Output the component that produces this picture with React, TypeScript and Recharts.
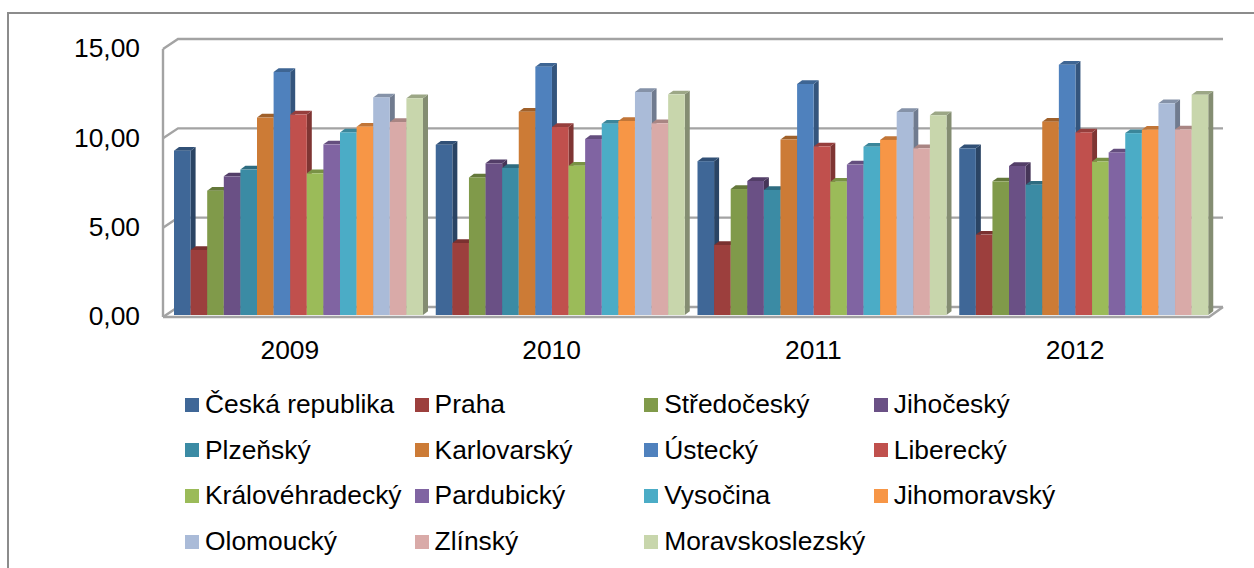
import {Bar, BarChart, CartesianGrid, Legend, XAxis, YAxis} from "recharts";

const YEARS = ["2009", "2010", "2011", "2012"];
const Y_TICKS = [0, 5, 10, 15];

const ceskaRepublika = [9.2, 9.53, 8.61, 9.33];
const praha = [3.64, 4.03, 3.92, 4.5];
const stredocesky = [6.96, 7.7, 7.05, 7.48];
const jihocesky = [7.76, 8.49, 7.5, 8.34];
const plzensky = [8.14, 8.23, 7.0, 7.29];
const karlovarsky = [11.05, 11.38, 9.82, 10.82];
const ustecky = [13.6, 13.9, 12.93, 14.01];
const liberecky = [11.22, 10.52, 9.44, 10.22];
const kralovehradecky = [7.93, 8.36, 7.46, 8.59];
const pardubicky = [9.55, 9.85, 8.42, 9.1];
const vysocina = [10.22, 10.71, 9.42, 10.18];
const jihomoravsky = [10.54, 10.86, 9.8, 10.37];
const olomoucky = [12.18, 12.48, 11.36, 11.85];
const zlinsky = [10.8, 10.73, 9.33, 10.39];
const moravskoslezsky = [12.13, 12.35, 11.18, 12.33];

const SERIES = [
    {name: "Česká republika", values: ceskaRepublika, color: "#3f6797"},
    {name: "Praha", values: praha, color: "#9c3f3d"},
    {name: "Středočeský", values: stredocesky, color: "#809a4a"},
    {name: "Jihočeský", values: jihocesky, color: "#6a5085"},
    {name: "Plzeňský", values: plzensky, color: "#3b8ba4"},
    {name: "Karlovarský", values: karlovarsky, color: "#cc7b36"},
    {name: "Ústecký", values: ustecky, color: "#4f81bd"},
    {name: "Liberecký", values: liberecky, color: "#c0504d"},
    {name: "Královéhradecký", values: kralovehradecky, color: "#9bbb59"},
    {name: "Pardubický", values: pardubicky, color: "#8064a2"},
    {name: "Vysočina", values: vysocina, color: "#4bacc6"},
    {name: "Jihomoravský", values: jihomoravsky, color: "#f79646"},
    {name: "Olomoucký", values: olomoucky, color: "#aabbd8"},
    {name: "Zlínský", values: zlinsky, color: "#d9aaa8"},
    {name: "Moravskoslezský", values: moravskoslezsky, color: "#c8d6ac"},
];

const chartData = YEARS.map((year, i) => {
    const row: Record<string, string | number> = {year};
    SERIES.forEach((s) => {
        row[s.name] = s.values[i];
    });
    return row;
});

const FONT = "'Liberation Sans', Arial, sans-serif";
const FONT_SIZE = 26.4;
const GRID_COLOR = "#a3a3a3";
const DEPTH_X = 5;
const DEPTH_Y = 3.7;
const PLOT_TOP = 47;
const PLOT_BOTTOM = 315;

function shade(hex: string, k: number) {
    const n = parseInt(hex.slice(1), 16);
    const c = [n >> 16, (n >> 8) & 255, n & 255].map((v) => Math.round(v * k));
    return `rgb(${c[0]},${c[1]},${c[2]})`;
}

// front face plus top and right side, excel style
function Bar3D({x, y, width, height, fill}: any) {
    const r = x + width;
    const b = y + height;
    return (
        <g>
            <polygon
                points={`${r},${y} ${r + DEPTH_X},${y - DEPTH_Y} ${r + DEPTH_X},${b - DEPTH_Y} ${r},${b}`}
                fill={shade(fill, 0.66)}
            />
            <polygon
                points={`${x},${y} ${x + DEPTH_X},${y - DEPTH_Y} ${r + DEPTH_X},${y - DEPTH_Y} ${r},${y}`}
                fill={shade(fill, 0.78)}
            />
            <rect x={x} y={y} width={width} height={height} fill={fill} />
        </g>
    );
}

// walls of the fake 3d box: front edge is 2px under the scale, back wall 8px above
function GridLine({x1, x2, y1}: any) {
    const fl = x1 - 5;
    const bl = x1 + 10;
    const fr = x2 - 6;
    const br = x2 + 8;
    const fy = y1 + 2;
    const by = y1 - 8;
    const s = {stroke: GRID_COLOR, strokeWidth: 2.4, fill: "none"};
    const isFloor = y1 >= PLOT_BOTTOM - 1;
    const isTop = y1 <= PLOT_TOP + 1;
    return (
        <g>
            <polyline points={`${fl},${fy} ${bl},${by} ${br},${by}`} {...s} />
            {isFloor && <polyline points={`${fl},${fy} ${fr},${fy} ${br},${by}`} {...s} />}
            {isTop && <line x1={fl} y1={fy} x2={fl} y2={PLOT_BOTTOM + 2} {...s} />}
        </g>
    );
}

function LegendGrid({payload}: any) {
    return (
        <div
            style={{
                display: "grid",
                gridTemplateColumns: "repeat(4, 229.6px)",
                gridAutoRows: "45.6px",
                fontFamily: FONT,
                fontSize: FONT_SIZE,
                color: "#000",
            }}
        >
            {(payload ?? []).map((item: any) => (
                <div key={item.value} style={{display: "flex", alignItems: "center", whiteSpace: "nowrap"}}>
                    <span style={{width: 14, height: 14, background: item.color, marginRight: 6, flex: "none"}} />
                    {item.value}
                </div>
            ))}
        </div>
    );
}

export default function App() {
    return (
        <div style={{position: "absolute", left: 0, top: 0, width: 1254, height: 568, overflow: "hidden", background: "#fff"}}>
            <div
                style={{
                    position: "absolute",
                    left: 7,
                    top: 12,
                    width: 1260,
                    height: 570,
                    border: "2px solid #8c8c8c",
                    boxSizing: "border-box",
                }}
            />
            <BarChart
                width={1254}
                height={568}
                data={chartData}
                barGap={0}
                margin={{top: PLOT_TOP, right: 39, bottom: 223, left: 0}}
                style={{position: "absolute", left: 0, top: 0}}
            >
                <CartesianGrid vertical={false} horizontal={(props: any) => <GridLine key={props.key ?? props.y1} {...props} />} />
                <XAxis
                    dataKey="year"
                    height={30}
                    axisLine={false}
                    tickLine={false}
                    tickSize={0}
                    tickMargin={24}
                    tick={{fill: "#000", fontSize: FONT_SIZE, fontFamily: FONT, dx: -9, dy: 1}}
                />
                <YAxis
                    width={168}
                    domain={[0, 15]}
                    ticks={Y_TICKS}
                    axisLine={false}
                    tickLine={false}
                    tickSize={0}
                    tickMargin={28}
                    tickFormatter={(v: number) => v.toFixed(2).replace(".", ",")}
                    tick={{fill: "#000", fontSize: FONT_SIZE, fontFamily: FONT, dy: 1}}
                />
                <Legend
                    layout="horizontal"
                    verticalAlign="middle"
                    align="center"
                    itemSorter={null}
                    content={<LegendGrid />}
                    wrapperStyle={{left: 185, top: 382, width: 960}}
                />
                {SERIES.map((s) => (
                    <Bar key={s.name} dataKey={s.name} fill={s.color} barSize={16.6} shape={<Bar3D />} isAnimationActive={false} />
                ))}
            </BarChart>
        </div>
    );
}
